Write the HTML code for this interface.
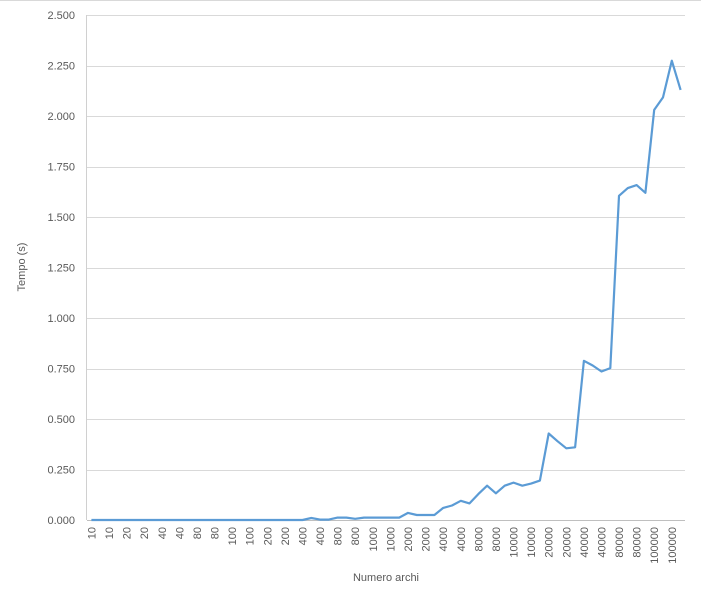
<!DOCTYPE html>
<html><head><meta charset="utf-8"><style>
body{margin:0;background:#fff;}
svg{display:block;font-family:"Liberation Sans",sans-serif;}
</style></head><body>
<svg id="chart" width="701" height="603" viewBox="0 0 701 603">
<rect width="701" height="603" fill="#fff"/>
<line x1="0" y1="0.5" x2="701" y2="0.5" stroke="#d9d9d9"/>
<line x1="86.5" y1="15" x2="86.5" y2="520" stroke="#d0d0d0"/>
<g id="grid"></g><g id="ylab"></g><g id="xlab"></g>
<path id="series" fill="none" stroke="#5b9bd5" stroke-width="2.2" stroke-linejoin="round"/>
<text transform="translate(25,267) rotate(-90)" text-anchor="middle" font-size="11" fill="#595959">Tempo (s)</text>
<text x="386" y="581" text-anchor="middle" font-size="11" fill="#595959">Numero archi</text>
</svg>
<script>
const baseCats=[10,20,40,80,100,200,400,800,1000,2000,4000,8000,10000,20000,40000,80000,100000];
const values=[0,0,0,0,0,0,0,0,0,0,0,0,0,0,0,0,0,0,0,0,0,0,0,0,0,10,2,2,12,12,6,12,12,12,12,12,35,25,25,25,60,72,95,82,128,170,132,170,185,170,180,195,428,390,355,360,788,765,735,752,1605,1643,1658,1620,2030,2092,2274,2129];
const yTicks=[0,250,500,750,1000,1250,1500,1750,2000,2250,2500];
const yTickLabels=["0.000","0.250","0.500","0.750","1.000","1.250","1.500","1.750","2.000","2.250","2.500"];
const categories=[];baseCats.forEach(c=>{for(let k=0;k<4;k++)categories.push(c);});
const NS="http://www.w3.org/2000/svg";
const L=87,R=685,T=15,B=520,yMax=2500;
const step=(R-L)/categories.length;
const xs=i=>L+step*(i+0.5);
const ys=v=>B-(v/yMax)*(B-T);
const grid=document.getElementById('grid'),yl=document.getElementById('ylab'),xl=document.getElementById('xlab');
yTicks.forEach((t,i)=>{
 const ln=document.createElementNS(NS,'line');
 
 
 const y=Math.round(ys(t))+0.5;
 ln.setAttribute('x1',L);ln.setAttribute('x2',R);ln.setAttribute('y1',y);ln.setAttribute('y2',y);
 ln.setAttribute('stroke',t===0?'#bfbfbf':'#d9d9d9');grid.appendChild(ln);
 const tx=document.createElementNS(NS,'text');
 
 
 tx.setAttribute('x',75);tx.setAttribute('y',ys(t)+4);tx.setAttribute('text-anchor','end');
 tx.setAttribute('font-size','11');tx.setAttribute('fill','#595959');tx.textContent=yTickLabels[i];yl.appendChild(tx);
});
categories.forEach((c,i)=>{
 if(i%2)return;
 const tx=document.createElementNS(NS,'text');
 
 
 tx.setAttribute('transform','translate('+(xs(i)+4)+',527) rotate(-90)');
 tx.setAttribute('text-anchor','end');tx.setAttribute('font-size','11');tx.setAttribute('fill','#595959');
 tx.textContent=c;xl.appendChild(tx);
});
document.getElementById('series').setAttribute('d',values.map((v,i)=>(i?'L':'M')+xs(i).toFixed(1)+' '+ys(v).toFixed(1)).join(' '));
</script>
</body></html>
